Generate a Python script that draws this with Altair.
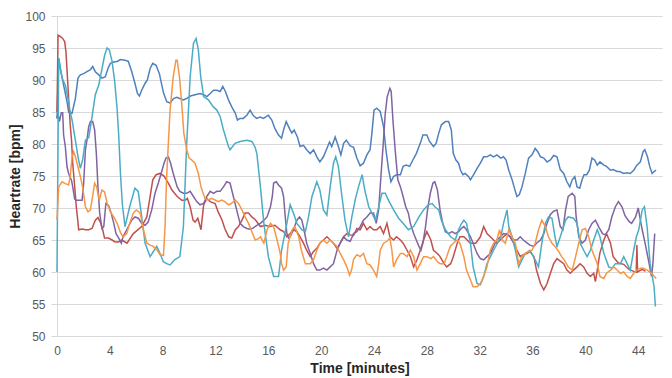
import altair as alt
import pandas as pd

x_ticks = [0, 4, 8, 12, 16, 20, 24, 28, 32, 36, 40, 44]
y_ticks = [50, 55, 60, 65, 70, 75, 80, 85, 90, 95, 100]

blue_t = [0, 0.13, 0.25, 0.5, 0.76, 0.88, 1.14, 1.39, 1.59, 1.77, 2.02, 2.27, 2.53, 2.7, 2.9, 3.16, 3.41, 3.66, 3.86, 4.04, 4.29, 4.55, 4.8, 5.15, 5.4, 5.66, 5.9, 6.09, 6.24, 6.41, 6.67, 6.84, 7.05, 7.25, 7.5, 7.75, 8.06, 8.31, 8.57, 8.82, 9.07, 9.3, 9.57, 9.8, 10.1, 10.45, 10.83, 11.1, 11.35, 11.6, 11.85, 12.1, 12.35, 12.55, 12.75, 12.98, 13.23, 13.5, 13.66, 13.86, 14.1, 14.37, 14.62, 14.87, 15.12, 15.38, 15.63, 16.0, 16.26, 16.5, 16.77, 17.0, 17.15, 17.35, 17.6, 17.78, 17.95, 18.2, 18.4, 18.66, 18.9, 19.17, 19.42, 19.67, 19.9, 20.17, 20.43, 20.63, 20.8, 21.06, 21.3, 21.49, 21.7, 21.9, 22.2, 22.45, 22.7, 22.95, 23.2, 23.46, 23.7, 23.84, 24.0, 24.2, 24.47, 24.72, 24.9, 25.1, 25.28, 25.48, 25.7, 26.0, 26.2, 26.44, 26.7, 26.94, 27.2, 27.5, 27.7, 28.0, 28.2, 28.5, 28.7, 28.9, 29.1, 29.4, 29.65, 29.85, 30.0, 30.2, 30.4, 30.55, 30.73, 30.9, 31.16, 31.3, 31.54, 31.8, 32.05, 32.3, 32.55, 32.8, 33.05, 33.3, 33.6, 33.8, 34.0, 34.2, 34.45, 34.7, 34.82, 35.0, 35.2, 35.45, 35.7, 35.96, 36.2, 36.4, 36.6, 36.85, 37.1, 37.35, 37.6, 37.85, 38.1, 38.36, 38.6, 38.82, 39.0, 39.2, 39.37, 39.57, 39.75, 39.9, 40.1, 40.3, 40.5, 40.7, 40.9, 41.1, 41.4, 41.6, 41.9, 42.1, 42.4, 42.6, 42.9, 43.15, 43.4, 43.66, 43.9, 44.16, 44.37, 44.5, 44.7, 44.87, 45.05, 45.2, 45.35]
blue_v = [84.0, 93.4, 91.8, 89.2, 86.6, 85.0, 84.8, 87.1, 90.3, 90.8, 91.0, 91.3, 91.6, 92.1, 91.3, 90.8, 90.3, 90.5, 91.8, 92.6, 92.8, 92.9, 93.2, 93.1, 92.9, 91.3, 89.5, 87.9, 87.5, 88.4, 89.5, 90.0, 91.8, 92.6, 92.3, 91.0, 88.0, 86.6, 86.4, 87.1, 87.3, 87.1, 86.9, 87.1, 87.5, 87.7, 87.9, 87.7, 87.4, 87.9, 88.4, 88.4, 88.2, 89.0, 88.2, 86.9, 85.8, 84.8, 83.75, 84.0, 84.0, 84.5, 85.3, 84.4, 84.0, 84.2, 84.0, 84.5, 83.75, 82.4, 81.4, 80.9, 82.2, 83.5, 82.4, 81.7, 82.2, 81.1, 79.6, 79.8, 79.1, 78.5, 79.1, 78.0, 77.2, 78.0, 79.3, 80.3, 79.6, 81.1, 79.6, 78.3, 80.1, 80.6, 79.7, 79.5, 77.8, 76.6, 77.0, 78.3, 79.1, 81.7, 85.3, 85.6, 85.1, 82.7, 79.1, 76.0, 74.1, 74.9, 75.2, 75.2, 76.5, 76.7, 76.5, 77.5, 78.5, 80.1, 81.4, 81.4, 80.4, 79.6, 80.1, 81.7, 83.0, 83.5, 83.5, 82.2, 78.5, 77.5, 77.0, 75.9, 75.2, 75.4, 74.9, 74.4, 75.2, 76.2, 77.0, 78.0, 78.0, 78.3, 78.0, 78.3, 77.8, 78.0, 77.5, 75.9, 74.4, 72.6, 71.8, 72.1, 73.3, 75.4, 77.8, 78.3, 79.3, 78.8, 78.0, 77.8, 77.2, 77.5, 78.2, 78.0, 76.0, 75.4, 74.1, 73.3, 74.4, 74.9, 73.3, 73.1, 74.4, 75.2, 75.2, 75.9, 77.8, 77.5, 76.7, 77.2, 76.7, 76.5, 75.9, 76.0, 75.7, 75.7, 75.4, 75.5, 75.4, 75.9, 76.7, 77.2, 78.8, 79.1, 78.0, 76.5, 75.4, 75.7, 75.9]

red_t = [0, 0.08, 0.25, 0.43, 0.58, 0.68, 0.78, 0.88, 1.0, 1.1, 1.19, 1.34, 1.46, 1.57, 1.64, 1.9, 2.15, 2.4, 2.65, 2.9, 3.1, 3.28, 3.46, 3.6, 3.9, 4.17, 4.4, 4.67, 4.9, 5.3, 5.78, 6.41, 6.8, 7.05, 7.25, 7.5, 7.8, 8.1, 8.43, 8.7, 9.1, 9.45, 9.7, 9.87, 10.08, 10.3, 10.45, 10.66, 10.9, 11.1, 11.34, 11.6, 11.97, 12.2, 12.5, 12.7, 13.0, 13.23, 13.5, 13.74, 14.0, 14.24, 14.5, 14.75, 15.0, 15.4, 15.76, 16.1, 16.5, 16.9, 17.15, 17.4, 17.65, 17.9, 18.16, 18.4, 18.66, 18.9, 19.17, 19.42, 19.67, 19.9, 20.17, 20.43, 20.68, 20.93, 21.2, 21.44, 21.7, 21.94, 22.2, 22.45, 22.7, 22.95, 23.2, 23.46, 23.7, 23.96, 24.2, 24.47, 24.72, 24.98, 25.2, 25.48, 25.7, 26.0, 26.2, 26.5, 26.75, 27.0, 27.25, 27.5, 27.75, 28.0, 28.3, 28.5, 28.8, 29.0, 29.3, 29.5, 29.8, 30.0, 30.3, 30.5, 30.8, 31.3, 31.7, 32.05, 32.3, 32.55, 32.8, 33.05, 33.3, 33.56, 33.8, 34.07, 34.3, 34.57, 34.82, 35.07, 35.3, 35.6, 35.8, 36.1, 36.3, 36.6, 36.85, 37.1, 37.35, 37.6, 37.85, 38.1, 38.36, 38.6, 38.86, 39.1, 39.37, 39.6, 39.87, 40.13, 40.38, 40.63, 40.76, 40.9, 41.1, 41.4, 41.6, 41.9, 42.1, 42.5, 42.9, 43.3, 43.66, 43.85, 43.9, 43.95, 44.3, 44.55]
red_v = [85.0, 97.0, 96.8, 96.5, 96.0, 94.4, 90.8, 87.1, 83.0, 80.6, 77.0, 73.3, 70.2, 68.1, 66.6, 66.7, 66.6, 66.6, 66.8, 68.1, 68.5, 67.8, 66.6, 65.3, 65.3, 65.0, 64.7, 64.7, 65.0, 64.5, 66.0, 67.1, 68.6, 71.8, 74.4, 75.2, 75.4, 75.0, 73.9, 72.8, 71.8, 71.2, 71.2, 71.5, 70.2, 68.1, 67.8, 68.4, 66.6, 70.5, 71.5, 71.0, 70.7, 69.4, 68.1, 66.8, 65.5, 65.3, 66.6, 67.1, 68.1, 69.2, 69.2, 68.6, 68.2, 67.1, 67.3, 67.1, 67.3, 66.6, 66.3, 65.5, 66.0, 66.6, 66.3, 65.5, 64.5, 63.4, 62.4, 63.2, 63.7, 64.5, 65.0, 65.5, 65.0, 64.5, 63.7, 64.5, 65.5, 66.0, 65.8, 65.7, 66.8, 66.6, 67.6, 66.6, 67.1, 66.6, 66.6, 67.1, 66.0, 67.6, 65.5, 65.0, 65.5, 65.0, 64.5, 63.4, 62.4, 60.8, 61.9, 63.4, 65.0, 66.3, 65.0, 63.4, 62.9, 62.4, 61.3, 60.8, 61.3, 62.4, 64.5, 65.5, 65.5, 64.5, 64.5, 65.5, 67.1, 66.0, 65.5, 65.0, 64.5, 65.0, 65.5, 66.0, 65.5, 64.5, 63.4, 62.4, 62.7, 62.9, 63.2, 62.4, 60.3, 58.2, 57.2, 58.2, 59.8, 61.3, 62.1, 61.7, 61.3, 60.3, 59.8, 60.3, 60.8, 61.3, 60.8, 59.8, 59.3, 59.8, 58.5, 60.3, 63.0, 65.0, 66.0, 64.5, 62.4, 61.4, 61.2, 60.4, 60.1, 60.0, 64.2, 60.0, 60.4, 60.1]

purple_t = [0, 0.08, 0.18, 0.33, 0.43, 0.5, 0.63, 0.76, 0.88, 1.1, 1.19, 1.34, 1.44, 1.64, 1.9, 2.02, 2.15, 2.27, 2.4, 2.53, 2.7, 2.85, 2.98, 3.1, 3.23, 3.4, 3.54, 3.7, 3.9, 4.1, 4.3, 4.47, 4.67, 4.87, 5.0, 5.28, 5.65, 5.9, 6.16, 6.41, 6.67, 6.9, 7.17, 7.42, 7.67, 7.9, 8.1, 8.25, 8.43, 8.6, 8.8, 9.1, 9.3, 9.57, 9.82, 10.08, 10.33, 10.58, 10.83, 11.1, 11.34, 11.6, 11.85, 12.1, 12.35, 12.6, 12.85, 13.1, 13.35, 13.6, 13.86, 14.1, 14.37, 14.62, 14.87, 15.13, 15.4, 15.66, 15.9, 16.16, 16.3, 16.4, 16.6, 16.77, 17.0, 17.15, 17.28, 17.4, 17.53, 17.65, 17.9, 18.16, 18.36, 18.53, 18.7, 18.9, 19.17, 19.42, 19.67, 19.9, 20.17, 20.43, 20.68, 20.93, 21.2, 21.44, 21.7, 21.94, 22.2, 22.45, 22.7, 22.95, 23.2, 23.46, 23.7, 23.96, 24.16, 24.35, 24.52, 24.7, 24.85, 25.0, 25.2, 25.3, 25.43, 25.6, 25.8, 26.0, 26.2, 26.4, 26.6, 26.75, 27.0, 27.2, 27.4, 27.55, 27.7, 27.9, 28.05, 28.26, 28.46, 28.6, 28.8, 29.0, 29.2, 29.4, 29.65, 29.9, 30.15, 30.4, 30.6, 30.8, 31.0, 31.3, 31.5, 31.8, 32.05, 32.3, 32.55, 32.8, 33.05, 33.3, 33.56, 33.8, 34.07, 34.3, 34.57, 34.82, 35.07, 35.3, 35.6, 35.8, 36.1, 36.3, 36.6, 36.85, 37.1, 37.35, 37.6, 37.85, 38.1, 38.3, 38.5, 38.7, 39.0, 39.2, 39.3, 39.5, 39.75, 40.0, 40.25, 40.5, 40.76, 41.0, 41.3, 41.5, 41.77, 42.0, 42.27, 42.5, 42.77, 43.0, 43.3, 43.5, 43.8, 44.0, 44.3, 44.5, 44.8, 45.0, 45.1, 45.25]
purple_v = [84.0, 84.8, 83.5, 84.9, 84.9, 81.4, 79.6, 76.4, 75.4, 74.3, 73.3, 71.4, 71.2, 71.2, 71.2, 73.9, 79.1, 80.6, 82.7, 83.5, 83.5, 82.2, 78.5, 73.3, 69.2, 66.8, 67.1, 70.7, 70.4, 69.2, 67.6, 66.0, 65.3, 64.5, 65.5, 66.6, 68.1, 68.6, 68.4, 67.6, 67.3, 67.8, 69.7, 72.3, 73.9, 75.5, 77.0, 77.8, 78.0, 77.0, 75.4, 73.3, 72.6, 72.3, 72.3, 72.6, 71.8, 71.0, 70.5, 70.7, 71.8, 72.6, 72.3, 72.6, 72.6, 73.3, 74.1, 73.9, 71.8, 69.7, 67.6, 67.1, 66.8, 66.7, 66.9, 67.3, 67.6, 68.1, 68.6, 70.2, 71.8, 73.9, 74.1, 73.6, 73.1, 71.8, 68.6, 66.0, 65.3, 65.5, 66.6, 68.1, 68.6, 68.1, 66.6, 64.5, 62.9, 61.3, 60.3, 60.3, 60.6, 60.3, 60.8, 61.3, 63.4, 64.5, 65.5, 65.0, 64.8, 66.0, 66.3, 67.1, 68.1, 68.6, 69.2, 69.2, 67.6, 69.7, 74.9, 80.1, 84.8, 87.4, 88.7, 88.2, 83.75, 79.1, 74.4, 73.3, 71.8, 70.2, 69.2, 67.6, 66.0, 65.0, 64.0, 63.4, 64.5, 67.1, 69.7, 72.3, 73.9, 74.1, 72.8, 69.7, 67.6, 66.3, 66.0, 66.3, 66.0, 66.3, 66.8, 67.1, 66.6, 65.5, 64.5, 62.9, 62.1, 61.9, 62.4, 62.9, 64.0, 65.0, 65.5, 66.0, 65.9, 65.5, 65.0, 65.0, 65.5, 65.0, 64.5, 64.2, 64.0, 64.5, 65.0, 66.0, 67.6, 69.0, 69.5, 69.7, 67.1, 66.6, 69.7, 71.8, 72.3, 71.8, 68.6, 65.5, 64.5, 65.0, 66.6, 67.6, 68.1, 67.1, 66.0, 65.8, 66.6, 68.6, 70.2, 71.0, 70.2, 68.8, 67.9, 67.6, 68.6, 70.0, 66.6, 64.7, 61.6, 59.3, 61.0, 66.0]

teal_t = [0, 0.13, 0.38, 0.63, 0.88, 1.0, 1.14, 1.39, 1.59, 1.77, 1.94, 2.15, 2.4, 2.6, 2.9, 3.16, 3.41, 3.61, 3.79, 3.96, 4.17, 4.37, 4.55, 4.67, 4.8, 4.95, 5.15, 5.5, 5.9, 6.15, 6.41, 6.67, 7.05, 7.3, 7.55, 7.8, 8.05, 8.3, 8.56, 8.9, 9.3, 9.57, 9.82, 10.08, 10.33, 10.53, 10.7, 10.88, 11.1, 11.46, 11.84, 12.1, 12.35, 12.6, 12.98, 13.1, 13.48, 13.86, 14.37, 14.75, 15.0, 15.13, 15.4, 15.66, 16.0, 16.4, 16.77, 17.0, 17.4, 17.65, 17.9, 18.16, 18.53, 18.8, 19.04, 19.3, 19.67, 19.9, 20.17, 20.43, 20.68, 20.93, 21.1, 21.3, 21.57, 21.8, 22.07, 22.32, 22.6, 22.85, 23.1, 23.3, 23.6, 23.84, 24.1, 24.3, 24.6, 24.85, 25.1, 25.48, 25.86, 26.2, 26.6, 27.0, 27.4, 27.75, 28.1, 28.4, 28.6, 28.9, 29.1, 29.4, 29.8, 30.15, 30.4, 30.6, 30.8, 31.0, 31.3, 31.5, 31.8, 32.05, 32.3, 32.55, 33.05, 33.6, 33.8, 34.07, 34.2, 34.45, 34.7, 34.95, 35.2, 35.45, 35.8, 36.2, 36.45, 36.7, 36.97, 37.2, 37.47, 37.7, 37.85, 38.1, 38.5, 38.7, 39.1, 39.37, 39.6, 39.87, 40.13, 40.38, 40.63, 40.9, 41.1, 41.4, 41.77, 42.02, 42.27, 42.65, 42.9, 43.16, 43.4, 43.66, 43.86, 44.04, 44.3, 44.47, 44.67, 44.9, 45.2, 45.3]
teal_v = [60.0, 93.4, 90.3, 89.2, 86.6, 85.0, 83.75, 80.6, 78.0, 76.2, 77.5, 80.6, 81.0, 83.5, 87.7, 89.2, 91.8, 93.9, 95.0, 94.7, 92.9, 89.7, 85.5, 81.4, 75.5, 70.5, 67.1, 70.2, 73.1, 72.6, 68.6, 64.5, 62.4, 63.2, 64.0, 62.9, 61.6, 61.3, 61.1, 61.9, 62.4, 67.1, 80.1, 90.5, 95.7, 96.5, 94.7, 90.5, 87.4, 86.9, 85.8, 85.3, 84.3, 82.2, 79.6, 79.1, 80.1, 80.4, 80.6, 80.4, 79.5, 78.5, 73.3, 67.6, 62.4, 59.3, 59.3, 63.4, 67.6, 70.5, 69.2, 67.6, 66.6, 66.3, 68.6, 71.8, 74.1, 72.8, 69.7, 68.9, 73.3, 77.0, 78.0, 76.5, 71.8, 68.1, 65.5, 68.6, 71.5, 73.5, 75.2, 72.8, 70.2, 69.2, 68.1, 69.7, 72.3, 72.3, 71.2, 69.7, 68.4, 67.6, 66.6, 67.1, 68.6, 69.7, 70.5, 70.7, 70.2, 69.7, 68.1, 66.6, 65.5, 65.0, 66.6, 67.5, 68.1, 67.6, 64.5, 60.8, 58.2, 58.0, 59.3, 61.3, 63.4, 65.5, 67.6, 69.7, 67.1, 65.5, 63.4, 60.8, 61.9, 62.9, 63.4, 61.9, 60.8, 64.5, 67.6, 68.6, 68.4, 65.5, 64.0, 65.5, 68.1, 68.6, 68.4, 67.6, 64.5, 63.4, 62.4, 63.4, 65.0, 66.6, 65.5, 62.9, 60.8, 60.6, 61.3, 61.3, 62.4, 61.3, 60.3, 63.4, 65.5, 66.6, 69.7, 70.2, 67.1, 61.3, 57.7, 54.6]

orange_t = [0, 0.13, 0.38, 0.63, 0.88, 1.0, 1.14, 1.26, 1.39, 1.59, 1.77, 1.94, 2.15, 2.35, 2.53, 2.65, 2.85, 3.0, 3.2, 3.4, 3.6, 3.8, 4.04, 4.3, 4.55, 4.8, 5.0, 5.28, 5.5, 5.78, 6.0, 6.3, 6.54, 6.8, 7.05, 7.3, 7.55, 7.8, 8.06, 8.18, 8.3, 8.43, 8.56, 8.8, 9.0, 9.1, 9.27, 9.44, 9.6, 9.82, 10.0, 10.2, 10.45, 10.7, 10.9, 11.2, 11.46, 11.7, 11.97, 12.2, 12.47, 12.7, 12.98, 13.2, 13.5, 13.74, 14.0, 14.24, 14.5, 14.75, 15.0, 15.25, 15.4, 15.66, 15.9, 16.16, 16.4, 16.66, 16.9, 17.0, 17.15, 17.35, 17.5, 17.8, 18.0, 18.3, 18.5, 18.8, 19.17, 19.42, 19.67, 19.9, 20.17, 20.43, 20.68, 20.93, 21.2, 21.44, 21.7, 21.94, 22.15, 22.3, 22.45, 22.7, 22.95, 23.2, 23.46, 23.7, 23.96, 24.2, 24.35, 24.47, 24.72, 24.98, 25.2, 25.35, 25.48, 25.7, 26.0, 26.2, 26.5, 26.75, 27.0, 27.25, 27.5, 27.75, 28.0, 28.3, 28.5, 28.8, 29.0, 29.3, 29.5, 29.77, 30.0, 30.3, 30.5, 30.8, 31.0, 31.3, 31.5, 31.8, 32.05, 32.3, 32.55, 32.8, 33.05, 33.3, 33.5, 33.7, 33.94, 34.2, 34.45, 34.7, 34.95, 35.2, 35.45, 35.7, 35.96, 36.2, 36.45, 36.7, 36.97, 37.2, 37.47, 37.7, 37.98, 38.2, 38.4, 38.7, 39.0, 39.2, 39.5, 39.75, 40.0, 40.25, 40.5, 40.9, 41.1, 41.4, 41.6, 41.9, 42.15, 42.4, 42.65, 42.9, 43.16, 43.4, 43.66, 43.9, 44.16, 44.4, 44.67, 44.9, 45.15, 45.35]
orange_v = [68.1, 73.3, 74.1, 73.8, 73.6, 74.9, 78.0, 78.8, 78.0, 76.4, 74.9, 73.3, 70.2, 69.4, 69.7, 71.25, 73.9, 73.3, 71.25, 72.8, 72.5, 70.7, 69.4, 68.6, 67.6, 66.2, 65.5, 66.0, 67.6, 69.2, 69.7, 69.2, 66.6, 64.5, 64.2, 64.0, 63.5, 62.7, 62.6, 67.1, 74.9, 80.1, 85.3, 90.5, 93.1, 93.1, 90.5, 86.4, 81.7, 79.1, 77.8, 77.5, 77.0, 75.4, 73.3, 71.5, 71.25, 71.5, 71.25, 71.0, 71.25, 71.0, 70.5, 70.7, 71.25, 70.7, 69.7, 68.6, 67.6, 66.3, 65.0, 65.2, 65.5, 64.5, 66.6, 67.6, 67.1, 65.0, 62.9, 61.3, 60.3, 60.8, 64.5, 66.6, 67.1, 65.5, 63.4, 61.3, 61.3, 61.9, 63.4, 64.5, 65.0, 64.5, 65.0, 64.5, 64.0, 62.9, 61.9, 60.8, 59.5, 60.3, 62.0, 62.7, 62.4, 62.9, 61.3, 61.1, 60.3, 59.3, 61.3, 63.4, 64.5, 64.8, 65.3, 63.4, 60.8, 61.9, 62.9, 62.9, 62.4, 63.4, 62.4, 60.3, 61.3, 62.4, 62.4, 62.1, 62.4, 61.6, 61.3, 61.3, 62.4, 64.0, 64.5, 65.0, 64.5, 62.4, 60.3, 58.75, 57.7, 57.7, 58.2, 59.3, 60.8, 63.4, 64.5, 65.0, 66.6, 65.0, 64.5, 66.6, 65.5, 64.5, 61.3, 62.4, 62.9, 63.2, 63.4, 64.5, 66.6, 68.1, 67.1, 65.5, 64.5, 64.0, 63.2, 62.4, 61.9, 60.8, 60.3, 61.9, 64.5, 66.6, 66.8, 65.5, 63.4, 61.3, 59.3, 59.0, 59.8, 60.3, 60.8, 60.3, 59.8, 60.0, 59.3, 59.0, 59.8, 60.3, 60.6, 60.6, 60.3, 60.0, 59.5, 59.0]

series = [
    ("Blue", blue_t, blue_v, "#4F81BD"),
    ("Red", red_t, red_v, "#C0504D"),
    ("Purple", purple_t, purple_v, "#8064A2"),
    ("Teal", teal_t, teal_v, "#4BACC6"),
    ("Orange", orange_t, orange_v, "#F79646"),
]

x_scale = alt.Scale(domain=[0, 45.8], nice=False, zero=False)
y_scale = alt.Scale(domain=[50, 100], nice=False, zero=False)

x_axis = alt.Axis(values=x_ticks, title="Time [minutes]", grid=False, domain=False,
                  ticks=False, labelPadding=9, titlePadding=5, labelFlush=False)
y_axis = alt.Axis(values=y_ticks, title="Heartrate [bpm]", grid=True, gridColor="#D9D9D9",
                  domain=True, domainColor="#D9D9D9", ticks=True, tickColor="#D9D9D9",
                  tickSize=6, labelPadding=6, titlePadding=2)

layers = []
for i, (name, t, v, col) in enumerate(series):
    df = pd.DataFrame({"t": t, "v": v, "idx": list(range(len(t)))})
    layers.append(
        alt.Chart(df).mark_line(strokeWidth=1.5, color=col).encode(
            x=alt.X("t:Q", scale=x_scale, axis=x_axis),
            y=alt.Y("v:Q", scale=y_scale, axis=y_axis),
            order="idx:Q",
        )
    )

chart = alt.layer(*layers).properties(
    width=605, height=320,
    autosize=alt.AutoSizeParams(type="none"),
    padding={"left": 49, "top": 8, "right": 2, "bottom": 44},
).configure_view(stroke=None).configure_axis(
    labelFont="Liberation Sans", labelFontSize=12, labelColor="#595959",
    titleFont="Liberation Sans", titleFontSize=14, titleFontWeight="bold", titleColor="#262626",
)

chart.save("out.html", embed_options={"renderer": "svg", "actions": False})
